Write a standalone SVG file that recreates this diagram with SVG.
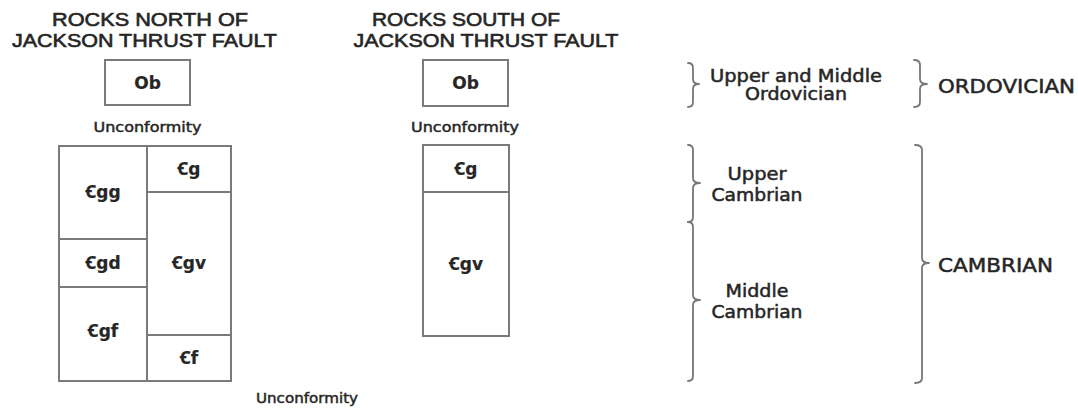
<svg xmlns="http://www.w3.org/2000/svg" width="1078" height="412" viewBox="0 0 1078 412">
  <style>
    .box { fill: #fff; stroke: #7a7a7a; stroke-width: 2; }
    .div { stroke: #7a7a7a; stroke-width: 2; fill: none; }
    .brace { stroke: #777; stroke-width: 1.8; fill: none; stroke-linecap: round; stroke-linejoin: round; }
    text { font-family: "DejaVu Sans", "Liberation Sans", sans-serif; fill: #262626; stroke: #262626; stroke-width: 0.5; text-anchor: middle; }
    .title { font-family: "Liberation Sans", "DejaVu Sans", sans-serif; font-size: 18.5px; stroke-width: 0.6; }
    .unit { font-family: "DejaVu Sans", "Noto Sans", sans-serif; font-size: 17px; font-weight: bold; stroke-width: 0.2; }
    .unc { font-size: 13.5px; stroke-width: 0.45; }
    .age { font-size: 17px; }
    .period { font-size: 19px; text-anchor: start; }
  </style>
  <rect width="1078" height="412" fill="#fff"/>

  <!-- Column headings -->
  <g id="heading-north">
    <text class="title" x="150" y="26" textLength="196" lengthAdjust="spacingAndGlyphs">ROCKS NORTH OF</text>
    <text class="title" x="144.5" y="47" textLength="265" lengthAdjust="spacingAndGlyphs">JACKSON THRUST FAULT</text>
  </g>
  <g id="heading-south">
    <text class="title" x="466" y="26" textLength="188" lengthAdjust="spacingAndGlyphs">ROCKS SOUTH OF</text>
    <text class="title" x="486" y="47" textLength="265" lengthAdjust="spacingAndGlyphs">JACKSON THRUST FAULT</text>
  </g>

  <!-- North column -->
  <g id="north-Ob">
    <rect class="box" x="105" y="60" width="85" height="45"/>
    <text class="unit" x="147.5" y="89">Ob</text>
  </g>
  <g id="north-unconformity">
    <text class="unc" x="147.5" y="132" textLength="108" lengthAdjust="spacingAndGlyphs">Unconformity</text>
  </g>
  <g id="north-column">
    <rect class="box" x="59" y="146" width="172" height="235"/>
    <line class="div" x1="147" y1="146" x2="147" y2="381"/>
  </g>
  <g id="north-Cgg">
    <line class="div" x1="59" y1="239" x2="147" y2="239"/>
    <text class="unit" x="103" y="198">Ꞓgg</text>
  </g>
  <g id="north-Cgd">
    <line class="div" x1="59" y1="287" x2="147" y2="287"/>
    <text class="unit" x="103" y="269">Ꞓgd</text>
  </g>
  <g id="north-Cgf">
    <text class="unit" x="103" y="337">Ꞓgf</text>
  </g>
  <g id="north-Cg">
    <line class="div" x1="147" y1="192" x2="231" y2="192"/>
    <text class="unit" x="189" y="175">Ꞓg</text>
  </g>
  <g id="north-Cgv">
    <line class="div" x1="147" y1="335" x2="231" y2="335"/>
    <text class="unit" x="189" y="269">Ꞓgv</text>
  </g>
  <g id="north-Cf">
    <text class="unit" x="189" y="364">Ꞓf</text>
  </g>
  <g id="basal-unconformity">
    <text class="unc" x="307" y="403" textLength="102" lengthAdjust="spacingAndGlyphs">Unconformity</text>
  </g>

  <!-- South column -->
  <g id="south-Ob">
    <rect class="box" x="423" y="60" width="85" height="46"/>
    <text class="unit" x="465.5" y="89">Ob</text>
  </g>
  <g id="south-unconformity">
    <text class="unc" x="465" y="132" textLength="108" lengthAdjust="spacingAndGlyphs">Unconformity</text>
  </g>
  <g id="south-column">
    <rect class="box" x="423" y="145" width="86" height="191"/>
  </g>
  <g id="south-Cg">
    <line class="div" x1="423" y1="192" x2="509" y2="192"/>
    <text class="unit" x="466" y="175">Ꞓg</text>
  </g>
  <g id="south-Cgv">
    <text class="unit" x="466" y="270">Ꞓgv</text>
  </g>

  <!-- Age brackets -->
  <g id="braces">
    <path class="brace" d="M688,63 Q693,63 693,68 L693,79 Q693,84 699,84 Q693,84 693,89 L693,102 Q693,107 688,107"/>
    <path class="brace" d="M914,60 Q920,60 920,65 L920,79 Q920,84 927,84 Q920,84 920,89 L920,102 Q920,107 914,107"/>
    <path class="brace" d="M688,145 Q693,145 693,150 L693,178 Q693,183 700,183 Q693,183 693,188 L693,217 Q693,222 688,222"/>
    <path class="brace" d="M688,222 Q693,222 693,227 L693,295 Q693,300 700,300 Q693,300 693,305 L693,376 Q693,381 688,381"/>
    <path class="brace" d="M915,145 Q922,145 922,150 L922,258 Q922,263 929,263 Q922,263 922,268 L922,378 Q922,383 915,383"/>
  </g>

  <!-- Series labels -->
  <g id="series-upper-middle-ordovician">
    <text class="age" x="796" y="82" textLength="172" lengthAdjust="spacingAndGlyphs">Upper and Middle</text>
    <text class="age" x="796" y="100" textLength="102" lengthAdjust="spacingAndGlyphs">Ordovician</text>
  </g>
  <g id="series-upper-cambrian">
    <text class="age" x="757" y="180" textLength="59" lengthAdjust="spacingAndGlyphs">Upper</text>
    <text class="age" x="757" y="201" textLength="91" lengthAdjust="spacingAndGlyphs">Cambrian</text>
  </g>
  <g id="series-middle-cambrian">
    <text class="age" x="757" y="297" textLength="63" lengthAdjust="spacingAndGlyphs">Middle</text>
    <text class="age" x="757" y="318" textLength="91" lengthAdjust="spacingAndGlyphs">Cambrian</text>
  </g>

  <!-- System labels -->
  <g id="system-ordovician">
    <text class="period" x="938" y="93" textLength="137" lengthAdjust="spacingAndGlyphs">ORDOVICIAN</text>
  </g>
  <g id="system-cambrian">
    <text class="period" x="938" y="272" textLength="115" lengthAdjust="spacingAndGlyphs">CAMBRIAN</text>
  </g>
</svg>
